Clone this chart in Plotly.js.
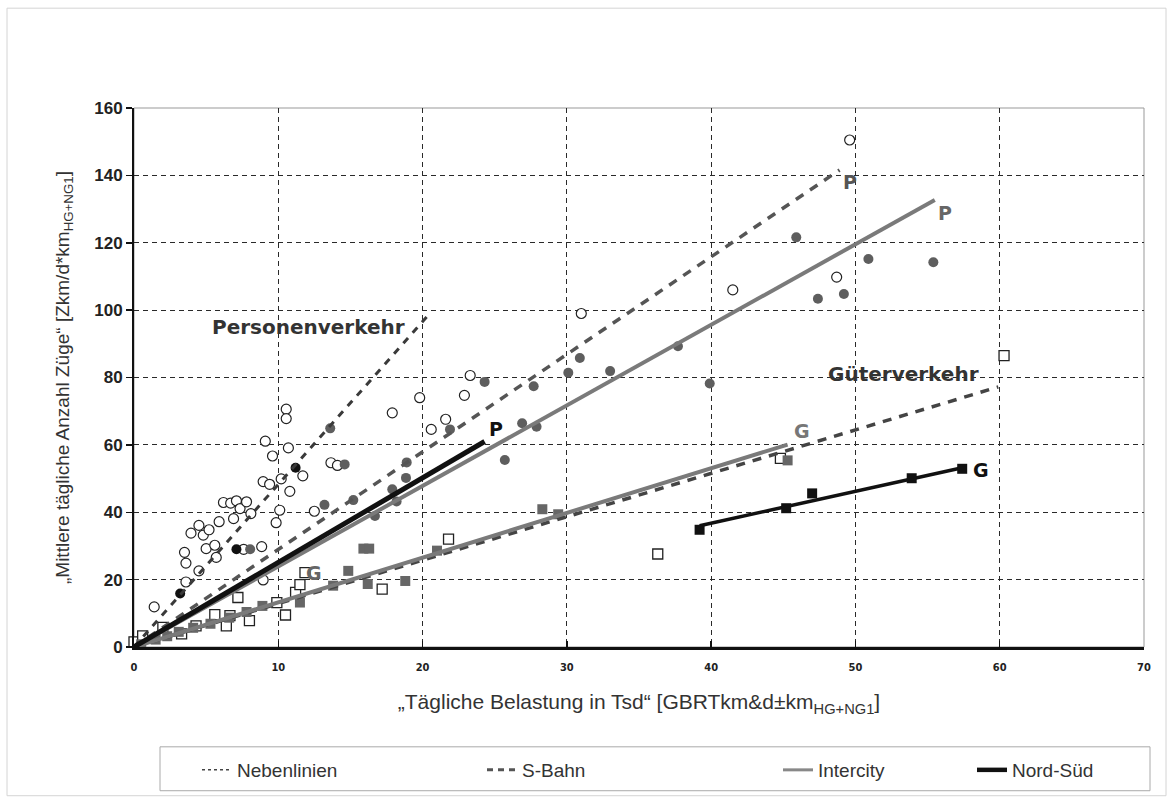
<!DOCTYPE html>
<html>
<head>
<meta charset="utf-8">
<script src="https://cdn.plot.ly/plotly-3.0.1.min.js"></script>
<style>body{margin:0;background:#fff}#chart{width:1170px;height:800px}</style>
</head>
<body>
<div id="chart"></div>
<script>
// ---- data ----
const xTicks = [0, 10, 20, 30, 40, 50, 60, 70];
const yTicks = [0, 20, 40, 60, 80, 100, 120, 140, 160];

// open circles (Personenverkehr, Nebenlinien)
const openCircX = [1.4, 3.5, 3.6, 3.6, 3.95, 4.5, 4.5, 4.8, 5.0, 5.2, 5.6, 5.7, 5.9, 6.2, 6.7, 6.9, 7.1, 7.35, 7.6, 7.8, 8.1, 8.85, 8.95, 8.95, 9.1, 9.4, 9.6, 9.85, 10.1, 10.2, 10.55, 10.55, 10.7, 10.8, 11.7, 12.5, 13.65, 14.1, 17.9, 19.8, 20.6, 21.6, 22.9, 23.3, 31.0, 41.5, 48.7, 49.6];
const openCircY = [11.9, 28.1, 24.9, 19.3, 33.8, 36.1, 22.6, 33.2, 29.2, 34.8, 30.2, 26.6, 37.2, 42.9, 42.7, 38.1, 43.4, 41.1, 29.0, 43.1, 39.6, 29.8, 49.1, 19.9, 61.1, 48.3, 56.7, 36.9, 40.6, 49.9, 70.6, 67.8, 59.1, 46.2, 50.8, 40.3, 54.7, 53.9, 69.5, 74.0, 64.6, 67.6, 74.7, 80.6, 99.0, 106.0, 109.8, 150.5];

// gray filled circles (Personenverkehr, S-Bahn / Intercity)
const grayCircX = [8.05, 13.2, 13.6, 14.6, 15.2, 16.7, 17.9, 18.2, 18.85, 18.9, 21.9, 24.3, 25.7, 26.9, 27.9, 27.7, 30.1, 30.9, 33.0, 37.7, 39.9, 45.9, 47.4, 49.2, 50.9, 55.4];
const grayCircY = [29.0, 42.2, 64.9, 54.2, 43.6, 38.9, 46.8, 43.2, 50.2, 54.8, 64.6, 78.7, 55.5, 66.4, 65.4, 77.4, 81.4, 85.8, 81.9, 89.3, 78.2, 121.6, 103.4, 104.8, 115.2, 114.2];

// black filled circles (Personenverkehr, Nord-Süd)
const blackCircX = [3.2, 7.1, 11.2];
const blackCircY = [15.9, 29.0, 53.2];

// open squares (Güterverkehr, Nebenlinien)
const openSqX = [0.0, 0.6, 2.0, 3.3, 4.3, 5.6, 6.4, 6.65, 7.2, 8.0, 9.9, 10.5, 11.2, 11.5, 11.85, 17.2, 21.8, 36.3, 44.8, 60.3];
const openSqY = [1.5, 3.3, 5.8, 3.9, 6.3, 9.6, 6.3, 9.3, 14.7, 7.8, 13.2, 9.5, 16.2, 18.5, 22.1, 17.2, 32.0, 27.6, 56.0, 86.5];

// gray filled squares (Güterverkehr, S-Bahn / Intercity)
const graySqX = [0.5, 1.5, 2.3, 3.1, 4.1, 5.3, 6.6, 7.8, 8.9, 11.5, 13.8, 14.85, 15.9, 16.3, 16.2, 18.8, 21.0, 28.3, 29.4, 45.3];
const graySqY = [0.8, 2.2, 3.2, 4.5, 5.7, 6.9, 8.7, 10.4, 12.2, 13.2, 18.2, 22.6, 29.2, 29.2, 18.7, 19.6, 28.6, 40.9, 39.4, 55.4];

// black squares (Güterverkehr, Nord-Süd)
const blackSqX = [39.2, 45.2, 47.0, 53.9, 57.4];
const blackSqY = [34.8, 41.2, 45.6, 50.1, 52.9];

// regression lines
const nebenPX = [0, 20.5],   nebenPY = [0, 99];
const sbahnPX = [0, 48.9],   sbahnPY = [0, 141.6];
const sbahnGX = [0, 59.9],   sbahnGY = [0, 77.2];
const icPX = [0, 55.5],      icPY = [0, 132.7];
const icGX = [0, 45.3],      icGY = [0, 60.1];
const nsPX = [0, 24.3],      nsPY = [0, 61.0];
const nsGX = [39.2, 57.4],   nsGY = [36.0, 53.2];

const legendNames = ['Nebenlinien', 'S-Bahn', 'Intercity', 'Nord-Süd'];

// ---- traces ----
const FONT = 'Liberation Sans, Arial, sans-serif';
const BOLDFONT = 'DejaVu Sans, Liberation Sans, Arial, sans-serif';
const mk = (x, y, symbol, color, lineColor, size, lw) => ({
  type: 'scatter', mode: 'markers', x, y, showlegend: false, cliponaxis: false, hoverinfo: 'skip',
  marker: {symbol, size, color, line: {color: lineColor, width: lw === undefined ? 1.2 : lw}}
});
const ln = (x, y, color, width, dash) => ({
  type: 'scatter', mode: 'lines', x, y, showlegend: false, cliponaxis: false, hoverinfo: 'skip',
  line: {color, width, dash}
});

const traces = [
  mk(openSqX, openSqY, 'square', '#fff', '#222', 10, 1.3),
  mk(graySqX, graySqY, 'square', '#666', '#666', 10, 0),
  mk(openCircX, openCircY, 'circle', '#fff', '#222', 10, 1.2),
  mk(grayCircX, grayCircY, 'circle', '#5e5e5e', '#5e5e5e', 10, 0),
  mk(blackCircX, blackCircY, 'circle', '#111', '#111', 10, 0),
  ln(nebenPX, nebenPY, '#3a3a3a', 3, '7px,7px'),
  ln(sbahnPX, sbahnPY, '#555', 3.5, '9px,8px'),
  ln(sbahnGX, sbahnGY, '#444', 3.5, '9px,8px'),
  ln(icGX, icGY, '#7a7a7a', 4, 'solid'),
  ln(icPX, icPY, '#7a7a7a', 4, 'solid'),
  ln(nsPX, nsPY, '#111', 5, 'solid'),
  ln(nsGX, nsGY, '#111', 3.5, 'solid'),
  mk(blackSqX, blackSqY, 'square', '#111', '#111', 10, 0),
];

// legend proxies (one legend per entry so positions match)
const legStyles = [
  {color: '#444', width: 1.5, dash: 'dot'},
  {color: '#555', width: 3, dash: '6px,5px'},
  {color: '#888', width: 3, dash: 'solid'},
  {color: '#111', width: 4.5, dash: 'solid'}
];
const legIds = ['legend', 'legend2', 'legend3', 'legend4'];
legendNames.forEach((n, i) => {
  traces.push({type: 'scatter', mode: 'lines', x: [null], y: [null], name: n,
    legend: legIds[i], showlegend: true, line: legStyles[i]});
});

const L = 134, R = 1144, T = 108, B = 648;
const px = v => (v - L) / (R - L);
const py = v => (B - v) / (B - T);

const legendBase = (xpx) => ({
  x: px(xpx), y: py(770), xanchor: 'left', yanchor: 'middle', orientation: 'h',
  bgcolor: 'rgba(0,0,0,0)', borderwidth: 0,
  font: {family: FONT, size: 19, color: '#333'}
});

const lab = (x, y, text, color, size) => ({
  x, y, xref: 'x', yref: 'y', text, showarrow: false,
  font: {family: BOLDFONT, size: size || 19, color, weight: 'bold'}
});

const layout = {
  width: 1170, height: 800,
  margin: {l: L, r: 1170 - R, t: T, b: 800 - B, pad: 0},
  paper_bgcolor: '#fff', plot_bgcolor: '#fff',
  font: {family: FONT, color: '#222'},
  xaxis: {
    range: [0, 70], tickvals: xTicks, ticktext: xTicks.map(String),
    showgrid: true, gridcolor: '#2a2a2a', gridwidth: 1, griddash: '5px,4px',
    zeroline: false, showline: true, linecolor: '#111', linewidth: 3,
    ticks: 'inside', ticklen: 6, tickwidth: 1.5, tickcolor: '#111',
    ticklabelstandoff: 8,
    tickfont: {family: 'DejaVu Sans Condensed, Liberation Sans, Arial', size: 11, color: '#222', weight: 'bold'},
    title: {text: '„Tägliche Belastung in Tsd“ [GBRTkm&d±km<sub>HG+NG1</sub>]',
      font: {family: FONT, size: 21, color: '#333'}, standoff: 22},
    automargin: false, fixedrange: true
  },
  yaxis: {
    range: [0, 160], tickvals: yTicks, ticktext: yTicks.map(String),
    showgrid: true, gridcolor: '#2a2a2a', gridwidth: 1, griddash: '5px,4px',
    zeroline: false, showline: true, linecolor: '#111', linewidth: 2,
    ticks: 'outside', ticklen: 6, tickwidth: 1.5, tickcolor: '#111',
    tickfont: {family: FONT, size: 17, color: '#222', weight: 'bold'},
    title: {text: '„Mittlere tägliche Anzahl Züge“ [Zkm/d*km<sub>HG+NG1</sub>]',
      font: {family: FONT, size: 19, color: '#333'}, standoff: 20},
    automargin: false, fixedrange: true
  },
  legend: legendBase(197),
  legend2: legendBase(482),
  legend3: legendBase(778),
  legend4: legendBase(972),
  shapes: [
    {type: 'rect', xref: 'paper', yref: 'paper', x0: 0, x1: 1, y0: 0, y1: 1,
      line: {color: '#999', width: 1}, layer: 'below'},
    {type: 'rect', xref: 'paper', yref: 'paper', x0: px(160), x1: px(1150), y0: py(792), y1: py(748),
      line: {color: '#aaa', width: 1}, layer: 'below'},
    {type: 'rect', xref: 'paper', yref: 'paper', x0: px(7), x1: px(1166), y0: py(797), y1: py(8),
      line: {color: '#d4d4d4', width: 1}, layer: 'below'}
  ],
  annotations: [
    lab(12.06, 95.1, 'Personenverkehr', '#333', 20),
    lab(53.3, 80.9, 'Güterverkehr', '#333', 20),
    lab(49.6, 137.9, 'P', '#555'),
    lab(56.2, 128.8, 'P', '#666'),
    lab(25.1, 64.6, 'P', '#111'),
    lab(46.3, 64.1, 'G', '#777'),
    lab(58.7, 52.5, 'G', '#111'),
    lab(12.5, 22.1, 'G', '#666')
  ]
};

Plotly.newPlot('chart', traces, layout, {staticPlot: true, displayModeBar: false});
</script>
</body>
</html>
